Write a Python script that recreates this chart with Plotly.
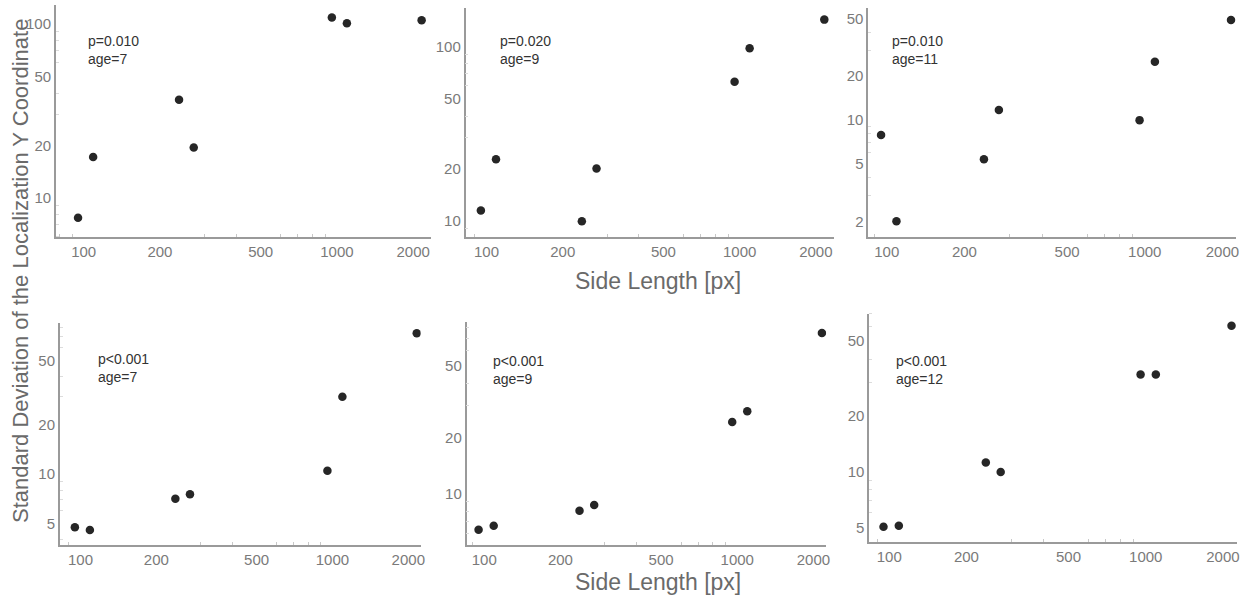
import plotly.graph_objects as go

W, H = 1253, 603

side_length = [95, 109, 238, 272, 955, 1095, 2160]

sd_p1 = [7.7, 17.2, 36.7, 19.5, 109, 101, 105]
sd_p2 = [11.5, 22.6, 9.96, 20.0, 63, 98, 143]
sd_p3 = [7.85, 2.0, 5.36, 11.7, 9.95, 25.1, 48.7]
sd_p4 = [4.73, 4.55, 7.08, 7.53, 10.5, 29.9, 73.3]
sd_p5 = [6.33, 6.65, 8.03, 8.63, 24.5, 28.1, 75.1]
sd_p6 = [5.06, 5.13, 11.2, 9.95, 33.2, 33.2, 60.5]

labels = ["p=0.010<br>age=7", "p=0.020<br>age=9", "p=0.010<br>age=11",
          "p<0.001<br>age=7", "p<0.001<br>age=9", "p<0.001<br>age=12"]

x_ticks = [100, 200, 500, 1000, 2000]
y_ticks = [[10, 20, 50, 100], [10, 20, 50, 100], [2, 5, 10, 20, 50],
           [5, 10, 20, 50], [10, 20, 50], [5, 10, 20, 50]]

series = [sd_p1, sd_p2, sd_p3, sd_p4, sd_p5, sd_p6]

# pixel geometry: (x0, x1, ytop, ybottom)
boxes = [(56, 432, 5, 237), (467, 837, 8, 237), (871, 1240, 8, 237),
         (60, 422, 323, 545), (468, 829, 322, 545), (872, 1241, 314, 542)]
xranges = [(1.890, 3.370), (1.917, 3.374), (1.928, 3.354),
           (1.918, 3.350), (1.930, 3.352), (1.922, 3.356)]
yranges = [(0.776, 2.109), (0.908, 2.222), (0.193, 1.770),
           (0.5655, 1.9285), (0.7175, 1.9356), (0.6225, 1.845)]
label_pos = [(86, 31), (500, 31), (893, 31), (96, 349), (493, 351), (897, 351)]

minor_x = [80, 90, 300, 400, 600, 700, 800, 900, 3000]
minor_y = [3, 4, 6, 7, 8, 9, 30, 40, 60, 70, 80, 90, 200]

fig = go.Figure()
layout = {}
font_family = "Liberation Sans, Arial, sans-serif"
for i, ys in enumerate(series):
    n = "" if i == 0 else str(i + 1)
    fig.add_trace(go.Scatter(x=side_length, y=ys, mode="markers",
                             marker=dict(size=8.5, color="#262626"),
                             xaxis="x" + n, yaxis="y" + n, showlegend=False))
    x0, x1, yt, yb = boxes[i]
    layout["xaxis" + n] = dict(
        type="log", range=list(xranges[i]), domain=[x0 / W, x1 / W],
        anchor="y" + n, showgrid=False, zeroline=False, showline=True,
        linecolor="#9a9a9a", linewidth=1.5, ticks="", tickvals=x_ticks,
        ticktext=[str(v) for v in x_ticks],
        tickfont=dict(size=15, color="#7a7a7a", family=font_family),
        minor=dict(ticks="inside", ticklen=3, tickcolor="#c8c8c8", tickvals=minor_x, showgrid=False),
    )
    layout["yaxis" + n] = dict(
        type="log", range=list(yranges[i]), domain=[1 - yb / H, 1 - yt / H],
        anchor="x" + n, showgrid=False, zeroline=False, showline=True,
        linecolor="#9a9a9a", linewidth=1.5, ticks="", tickvals=y_ticks[i],
        ticktext=[str(v) for v in y_ticks[i]],
        tickfont=dict(size=15, color="#7a7a7a", family=font_family),
        minor=dict(ticks="inside", ticklen=3, tickcolor="#dcdcdc", tickvals=minor_y, showgrid=False),
    )

annotations = []
for i, (lx, ly) in enumerate(label_pos):
    annotations.append(dict(x=lx / W, y=1 - ly / H, xref="paper", yref="paper",
                            xanchor="left", yanchor="top", align="left",
                            text=labels[i], showarrow=False,
                            font=dict(size=14, color="#333333", family=font_family)))
for yy in (281, 582):
    annotations.append(dict(x=660 / W, y=1 - yy / H, xref="paper", yref="paper",
                            xanchor="center", yanchor="middle",
                            text="Side Length [px]", showarrow=False,
                            font=dict(size=23, color="#6a6a6a", family=font_family)))
annotations.append(dict(x=20 / W, y=1 - 271 / H, xref="paper", yref="paper",
                        xanchor="center", yanchor="middle", textangle=-90,
                        text="Standard Deviation of the Localization Y Coordinate",
                        showarrow=False,
                        font=dict(size=22, color="#6a6a6a", family=font_family)))

fig.update_layout(width=W, height=H, margin=dict(l=0, r=0, t=0, b=0),
                  paper_bgcolor="white", plot_bgcolor="white",
                  annotations=annotations, **layout)
fig.write_html("out.html", config={"displayModeBar": False},
               post_script="document.body.style.margin='0';document.body.style.overflow='hidden';")
